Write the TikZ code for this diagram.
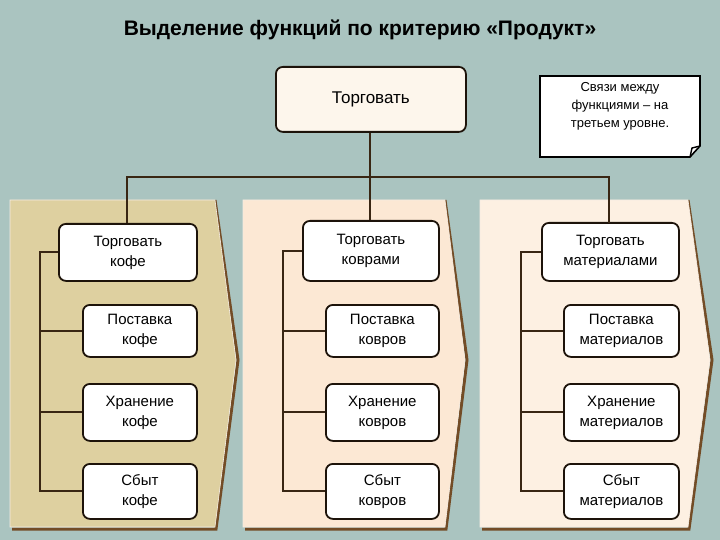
\documentclass[tikz,border=0pt]{standalone}
\usepackage{fontspec}
\setmainfont{Liberation Sans}
\begin{document}
\begin{tikzpicture}[x=1pt,y=-1pt,
  box/.style={draw=black!85!brown,line width=1.8pt,rounded corners=7pt,fill=white,align=center,font=\fontsize{15}{20}\selectfont,anchor=north west,inner sep=0pt},
  ln/.style={draw=black!70!brown,line width=2pt},
  shadow/.style={draw=brown!60!black,line width=3pt}]
\fill[fill={rgb,255:red,170;green,196;blue,192}] (0,0) rectangle (720,540);
\useasboundingbox (0,0) rectangle (720,540);
\node[font=\bfseries\fontsize{21}{24}\selectfont] (title) at (360,30) {Выделение функций по критерию «Продукт»};
% panels
\foreach \a/\b/\p/\c in {10/215/238/{rgb,255:red,222;green,208;blue,160},243/445/467/{rgb,255:red,252;green,232;blue,212},480/688/712/{rgb,255:red,253;green,240;blue,226}}{
  \draw[shadow] (\b,200) -- (\p,360) -- (\b+1,529) -- (\a+2,529);
  \fill[fill=\c,draw=white!85!brown,line width=0.6pt] (\a,200) -- (\b,200) -- (\p-2,360) -- (\b,527) -- (\a,527) -- cycle;
}
% top
\node[box,minimum width=190pt,minimum height=65pt,fill={rgb,255:red,253;green,246;blue,236},font=\fontsize{17}{20}\selectfont] (top) at (275,66) {Торговать};
% note
\fill[white,draw=black,line width=1.6pt] (540,76) -- (700,76) -- (700,146) -- (690,157) -- (540,157) -- cycle;
\draw[line width=1.4pt] (690,157) -- (692,148) -- (700,146);
\node[align=center,font=\fontsize{13}{18}\selectfont] (note) at (620,106) {Связи между\\функциями – на\\третьем уровне.};
% second-level boxes
\node[box,minimum width=138pt,minimum height=57pt] (t1) at (58,223) {Торговать\\кофе};
\node[box,minimum width=136pt,minimum height=60pt] (t2) at (302,220) {Торговать\\коврами};
\node[box,minimum width=137pt,minimum height=58pt] (t3) at (541,222) {Торговать\\материалами};
\coordinate (m) at (370,177);
\draw[ln] (top.south-|m) -- (m);
\draw[ln] (127,223) |- (m) -| (609,223);
\draw[ln] (m) -- (t2.north-|m);
\foreach \n/\x/\w/\v/\word in {1/82/114/40/кофе,2/325/113/283/ковров,3/563/115/521/материалов}{
  \node[box,minimum width=\w pt,minimum height=52pt] (p\n) at (\x,304) {Поставка\\\word};
  \node[box,minimum width=\w pt,minimum height=57pt] (h\n) at (\x,383) {Хранение\\\word};
  \node[box,minimum width=\w pt,minimum height=55pt] (s\n) at (\x,463) {Сбыт\\\word};
  \draw[ln] (t\n.west) -| (\v,0|-s\n.west) -- (s\n.west);
  \draw[ln] (\v,0|-p\n.west) -- (p\n.west);
  \draw[ln] (\v,0|-h\n.west) -- (h\n.west);
}
\end{tikzpicture}
\end{document}
